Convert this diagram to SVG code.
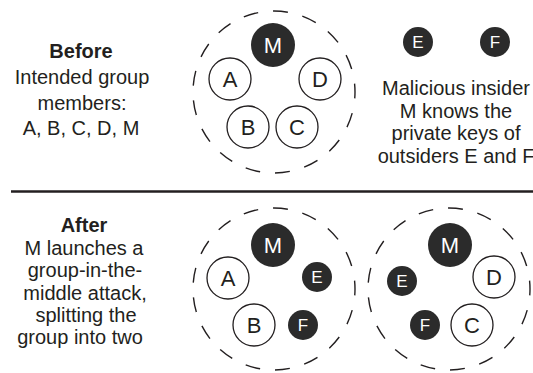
<svg xmlns="http://www.w3.org/2000/svg" width="533" height="373" viewBox="0 0 533 373">
  <style>
    .txt { font-family: "Liberation Sans", Arial, sans-serif; font-size: 20px; fill: #231f20; text-anchor: middle; }
    .bold { font-weight: bold; }
    .group { fill: none; stroke: #231f20; stroke-width: 1.4; stroke-dasharray: 15 15; stroke-dashoffset: 8.5; }
    .member circle { fill: #ffffff; stroke: #231f20; stroke-width: 1.3; }
    .member text { font-family: "Liberation Sans", Arial, sans-serif; font-size: 22px; fill: #231f20; text-anchor: middle; }
    .insider circle { fill: #2b2b2b; }
    .insider text { font-family: "Liberation Sans", Arial, sans-serif; font-size: 22px; fill: #ffffff; text-anchor: middle; }
    .outsider circle { fill: #2b2b2b; }
    .outsider text { font-family: "Liberation Sans", Arial, sans-serif; font-size: 17px; fill: #ffffff; text-anchor: middle; }
  </style>

  <!-- Captions -->
  <g id="caption-before">
    <text class="txt bold" x="81" y="58">Before</text>
    <text class="txt" x="82" y="84">Intended group</text>
    <text class="txt" x="82" y="110">members:</text>
    <text class="txt" x="81" y="135">A, B, C, D, M</text>
  </g>
  <g id="caption-insider">
    <text class="txt" x="456" y="95">Malicious insider</text>
    <text class="txt" x="456" y="118">M knows the</text>
    <text class="txt" x="456" y="140">private keys of</text>
    <text class="txt" x="456" y="163">outsiders E and F</text>
  </g>
  <g id="caption-after">
    <text class="txt bold" x="84" y="232">After</text>
    <text class="txt" x="84" y="255">M launches a</text>
    <text class="txt" x="85" y="277">group-in-the-</text>
    <text class="txt" x="85" y="300">middle attack,</text>
    <text class="txt" x="86" y="322">splitting the</text>
    <text class="txt" x="80" y="344">group into two</text>
  </g>

  <!-- Divider between the two scenarios -->
  <line x1="11" y1="191.5" x2="533" y2="191.5" stroke="#231f20" stroke-width="2.6"/>

  <!-- Group boundaries -->
  <g id="groups">
    <circle id="group-before" class="group" cx="274" cy="92" r="81" pathLength="510"/>
    <circle id="group-after-1" class="group" cx="274" cy="289" r="81" pathLength="510"/>
    <circle id="group-after-2" class="group" cx="449" cy="289" r="81" pathLength="510"/>
  </g>

  <!-- Before -->
  <g id="before-M" class="insider"><circle cx="273" cy="45" r="22"/><text x="273" y="53">M</text></g>
  <g id="before-A" class="member"><circle cx="230" cy="79" r="21"/><text x="230" y="87">A</text></g>
  <g id="before-D" class="member"><circle cx="320" cy="79" r="21"/><text x="320" y="87">D</text></g>
  <g id="before-B" class="member"><circle cx="248" cy="127" r="21"/><text x="248" y="135">B</text></g>
  <g id="before-C" class="member"><circle cx="297" cy="127" r="21"/><text x="297" y="135">C</text></g>
  <g id="before-E" class="outsider"><circle cx="418" cy="42" r="15"/><text x="418" y="48">E</text></g>
  <g id="before-F" class="outsider"><circle cx="495" cy="42" r="15"/><text x="495" y="48">F</text></g>

  <!-- After: first group -->
  <g id="after1-M" class="insider"><circle cx="273" cy="245" r="22"/><text x="273" y="253">M</text></g>
  <g id="after1-A" class="member"><circle cx="228" cy="278" r="21"/><text x="228" y="286">A</text></g>
  <g id="after1-E" class="outsider"><circle cx="317" cy="277" r="15"/><text x="317" y="283">E</text></g>
  <g id="after1-B" class="member"><circle cx="254" cy="325" r="21"/><text x="254" y="333">B</text></g>
  <g id="after1-F" class="outsider"><circle cx="303" cy="325" r="15"/><text x="303" y="331">F</text></g>

  <!-- After: second group -->
  <g id="after2-M" class="insider"><circle cx="450" cy="245" r="22"/><text x="450" y="253">M</text></g>
  <g id="after2-D" class="member"><circle cx="494" cy="277" r="21"/><text x="494" y="285">D</text></g>
  <g id="after2-E" class="outsider"><circle cx="402" cy="281" r="15"/><text x="402" y="287">E</text></g>
  <g id="after2-C" class="member"><circle cx="472" cy="325" r="21"/><text x="472" y="333">C</text></g>
  <g id="after2-F" class="outsider"><circle cx="425" cy="325" r="15"/><text x="425" y="331">F</text></g>
</svg>
